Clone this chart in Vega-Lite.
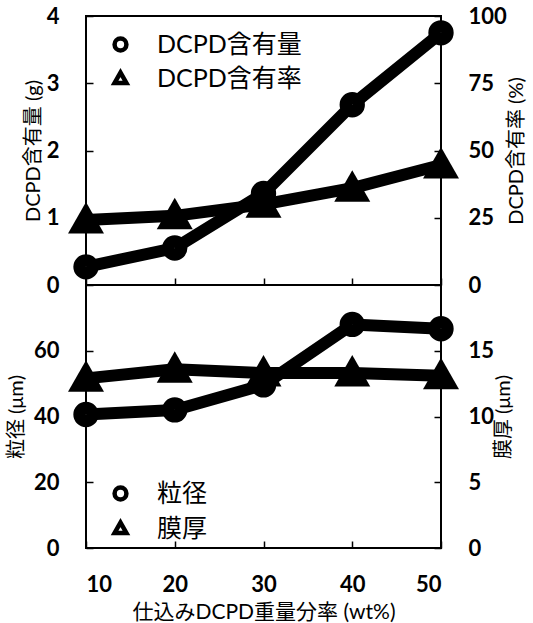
{
  "$schema": "https://vega.github.io/schema/vega-lite/v6.json",
  "padding": {"left": 5, "top": 0, "right": 5, "bottom": 0},
  "data": {"values": [
    {"x": 10, "amount": 0.27, "ratio": 24.2, "diameter": 40.6, "thickness": 12.9},
    {"x": 20, "amount": 0.55, "ratio": 25.7, "diameter": 42.0, "thickness": 13.6},
    {"x": 30, "amount": 1.36, "ratio": 30.0, "diameter": 49.6, "thickness": 13.3},
    {"x": 40, "amount": 2.68, "ratio": 36.0, "diameter": 68.0, "thickness": 13.3},
    {"x": 50, "amount": 3.75, "ratio": 44.6, "diameter": 66.7, "thickness": 13.1}
  ]},
  "spacing": 0,
  "bounds": "flush",
  "config": {
    "view": {"stroke": "black", "strokeWidth": 2},
    "font": "Lato",
    "axis": {
      "grid": false, "domain": false,
      "tickColor": "black", "tickWidth": 1.5, "tickSize": -7,
      "labelFont": "Lato", "labelFontWeight": "bold", "labelFontSize": 22, "labelColor": "black",
      "labelPadding": 34,
      "titleFont": "Lato, Noto Sans CJK JP", "titleFontSize": 20, "titleFontWeight": "normal", "titleColor": "black"
    },
    "legend": {
      "orient": "none", "title": null, "padding": 0,
      "labelFont": "Lato, Noto Sans CJK JP", "labelFontSize": 25, "labelColor": "black",
      "symbolSize": 140, "symbolOpacity": 1,
      "rowPadding": 3, "labelOffset": 24
    }
  },
  "resolve": {"scale": {"shape": "independent"}, "legend": {"shape": "independent"}},
  "vconcat": [
    {
      "width": 355, "height": 269,
      "layer": [
        {
          "layer": [
            {
              "mark": {"type": "line", "color": "black", "strokeWidth": 12, "strokeJoin": "round"},
              "encoding": {
                "x": {"field": "x", "type": "quantitative", "scale": {"domain": [10, 50]}, "axis": {"values": [10, 20, 30, 40, 50], "labels": false, "title": null, "minExtent": 0, "maxExtent": 0}},
                "y": {"field": "amount", "type": "quantitative", "scale": {"domain": [0, 4]}, "axis": {"orient": "left", "values": [0, 1, 2, 3, 4], "title": "DCPD含有量 (g)", "titlePadding": 3}}
              }
            },
            {
              "mark": {"type": "point", "fill": "white", "stroke": "black", "strokeWidth": 12.5, "size": 165, "opacity": 1},
              "encoding": {
                "x": {"field": "x", "type": "quantitative", "scale": {"domain": [10, 50]}, "axis": {"values": [10, 20, 30, 40, 50], "labels": false, "title": null, "minExtent": 0, "maxExtent": 0}},
                "y": {"field": "amount", "type": "quantitative", "scale": {"domain": [0, 4]}, "axis": {"orient": "left", "values": [0, 1, 2, 3, 4], "title": "DCPD含有量 (g)", "titlePadding": 3}},
                "shape": {"datum": "DCPD含有量", "scale": {"domain": ["DCPD含有量", "DCPD含有率"], "range": ["circle", "M0,-1L1,0.75L-1,0.75Z"]},
                  "legend": {"legendX": 22, "legendY": 16, "symbolStrokeWidth": 4.5, "encode": {"symbols": {"update": {"fill": {"value": "white"}, "stroke": {"value": "black"}, "opacity": {"value": 1}}}}}}
              }
            }
          ]
        },
        {
          "layer": [
            {
              "mark": {"type": "line", "color": "black", "strokeWidth": 12, "strokeJoin": "round"},
              "encoding": {
                "x": {"field": "x", "type": "quantitative", "scale": {"domain": [10, 50]}, "axis": {"values": [10, 20, 30, 40, 50], "labels": false, "title": null, "minExtent": 0, "maxExtent": 0}},
                "y": {"field": "ratio", "type": "quantitative", "scale": {"domain": [0, 100]}, "axis": {"orient": "right", "values": [0, 25, 50, 75, 100], "title": "DCPD含有率 (%)", "titleAngle": 270, "titleBaseline": "top", "titlePadding": 0}}
              }
            },
            {
              "mark": {"type": "point", "filled": true, "color": "black", "size": 1296, "opacity": 1},
              "encoding": {
                "x": {"field": "x", "type": "quantitative", "scale": {"domain": [10, 50]}, "axis": {"values": [10, 20, 30, 40, 50], "labels": false, "title": null, "minExtent": 0, "maxExtent": 0}},
                "y": {"field": "ratio", "type": "quantitative", "scale": {"domain": [0, 100]}, "axis": {"orient": "right", "values": [0, 25, 50, 75, 100], "title": "DCPD含有率 (%)", "titleAngle": 270, "titleBaseline": "top", "titlePadding": 0}},
                "shape": {"datum": "DCPD含有率"}
              }
            }
          ]
        }
      ],
      "resolve": {"scale": {"y": "independent"}}
    },
    {
      "width": 355, "height": 263,
      "layer": [
        {
          "layer": [
            {
              "mark": {"type": "line", "color": "black", "strokeWidth": 12, "strokeJoin": "round"},
              "encoding": {
                "x": {"field": "x", "type": "quantitative", "scale": {"domain": [10, 50]}, "axis": {"values": [10, 20, 30, 40, 50], "title": "仕込みDCPD重量分率 (wt%)", "titleFontSize": 21, "labelPadding": 33, "titlePadding": 6}},
                "y": {"field": "diameter", "type": "quantitative", "scale": {"domain": [0, 80]}, "axis": {"orient": "left", "values": [0, 20, 40, 60], "title": "粒径 (μm)", "titlePadding": 7}}
              }
            },
            {
              "mark": {"type": "point", "fill": "white", "stroke": "black", "strokeWidth": 12.5, "size": 165, "opacity": 1},
              "encoding": {
                "x": {"field": "x", "type": "quantitative", "scale": {"domain": [10, 50]}, "axis": {"values": [10, 20, 30, 40, 50], "title": "仕込みDCPD重量分率 (wt%)", "titleFontSize": 21, "labelPadding": 33, "titlePadding": 6}},
                "y": {"field": "diameter", "type": "quantitative", "scale": {"domain": [0, 80]}, "axis": {"orient": "left", "values": [0, 20, 40, 60], "title": "粒径 (μm)", "titlePadding": 7}},
                "shape": {"datum": "粒径", "scale": {"domain": ["粒径", "膜厚"], "range": ["circle", "M0,-1L1,0.75L-1,0.75Z"]},
                  "legend": {"legendX": 22, "legendY": 196, "rowPadding": 4, "symbolStrokeWidth": 4.5, "encode": {"symbols": {"update": {"fill": {"value": "white"}, "stroke": {"value": "black"}, "opacity": {"value": 1}}}}}}
              }
            }
          ]
        },
        {
          "layer": [
            {
              "mark": {"type": "line", "color": "black", "strokeWidth": 12, "strokeJoin": "round"},
              "encoding": {
                "x": {"field": "x", "type": "quantitative", "scale": {"domain": [10, 50]}, "axis": {"values": [10, 20, 30, 40, 50], "title": "仕込みDCPD重量分率 (wt%)", "titleFontSize": 21, "labelPadding": 33, "titlePadding": 6}},
                "y": {"field": "thickness", "type": "quantitative", "scale": {"domain": [0, 20]}, "axis": {"orient": "right", "values": [0, 5, 10, 15], "title": "膜厚 (μm)", "titleAngle": 270, "titleBaseline": "top", "titlePadding": 0}}
              }
            },
            {
              "mark": {"type": "point", "filled": true, "color": "black", "size": 1296, "opacity": 1},
              "encoding": {
                "x": {"field": "x", "type": "quantitative", "scale": {"domain": [10, 50]}, "axis": {"values": [10, 20, 30, 40, 50], "title": "仕込みDCPD重量分率 (wt%)", "titleFontSize": 21, "labelPadding": 33, "titlePadding": 6}},
                "y": {"field": "thickness", "type": "quantitative", "scale": {"domain": [0, 20]}, "axis": {"orient": "right", "values": [0, 5, 10, 15], "title": "膜厚 (μm)", "titleAngle": 270, "titleBaseline": "top", "titlePadding": 0}},
                "shape": {"datum": "膜厚"}
              }
            }
          ]
        }
      ],
      "resolve": {"scale": {"y": "independent"}}
    }
  ]
}
